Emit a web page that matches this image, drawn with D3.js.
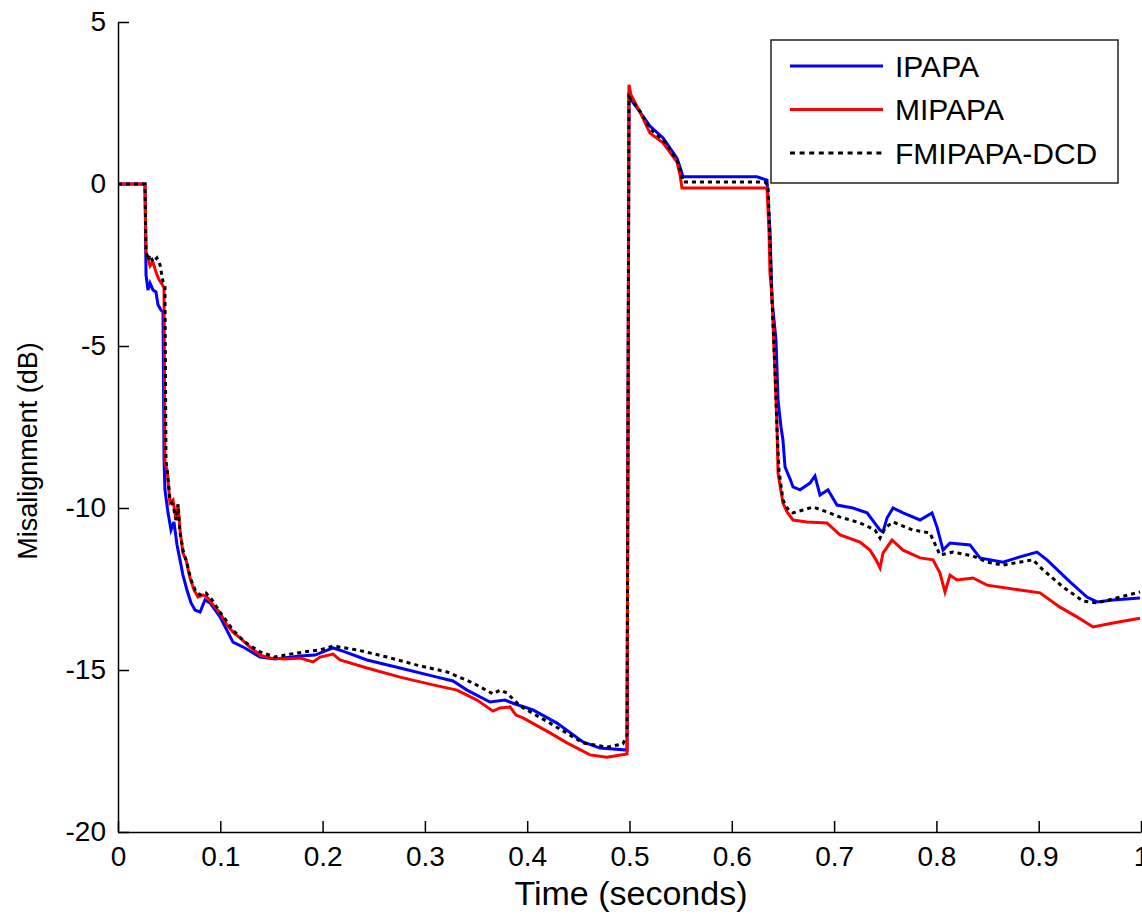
<!DOCTYPE html>
<html>
<head>
<meta charset="utf-8"/>
<title>Misalignment vs time</title>
<script src="https://d3js.org/d3.v7.min.js"></script>
<style>
    body { margin: 0; background: #fff; }
    svg { display: block; font-family: "Liberation Sans", Arial, sans-serif; }
    .axis path, .axis line { stroke: #000; stroke-width: 1.5; }
    .axis text { font-size: 28px; fill: #000; }
</style>
</head>
<body>
<svg id="chart" width="1142" height="916"></svg>
<script>
// time (s), misalignment (dB)
var ipapa = [
    [0, 0], [0.0264, 0], [0.0274, -2.81], [0.0293, -3.27], [0.0313, -3.06], [0.0342, -3.27],
    [0.0371, -3.33], [0.0391, -3.73], [0.042, -3.89], [0.044, -3.95], [0.045, -8.52], [0.0459, -9.44],
    [0.0489, -10.15], [0.0518, -10.68], [0.0547, -10.43], [0.0577, -11.14], [0.0606, -11.6], [0.0635, -12.07],
    [0.0674, -12.53], [0.0714, -12.93], [0.0753, -13.15], [0.0802, -13.21], [0.085, -12.84], [0.0899, -12.93],
    [0.0997, -13.36], [0.1124, -14.14], [0.1241, -14.32], [0.1388, -14.6], [0.1535, -14.66], [0.1779, -14.57],
    [0.1926, -14.54], [0.2102, -14.32], [0.2219, -14.44], [0.2434, -14.69], [0.2757, -14.94], [0.3079, -15.19],
    [0.3275, -15.34], [0.3412, -15.62], [0.3636, -15.99], [0.3783, -15.93], [0.3881, -16.05], [0.4057, -16.23],
    [0.4291, -16.64], [0.4545, -17.22], [0.4712, -17.41], [0.4976, -17.47], [0.4995, 2.69], [0.5103, 2.22],
    [0.52, 1.79], [0.5328, 1.42], [0.5464, 0.8], [0.5503, 0.43], [0.5523, 0.22], [0.6246, 0.22],
    [0.6344, 0.12], [0.6373, -1.42], [0.6393, -3.58], [0.6432, -4.81], [0.6452, -6.67], [0.6481, -7.5],
    [0.65, -7.9], [0.652, -8.73], [0.6569, -9.1], [0.6598, -9.35], [0.6667, -9.44], [0.6764, -9.23],
    [0.6813, -9.01], [0.6862, -9.6], [0.694, -9.44], [0.7028, -9.91], [0.7185, -10.0], [0.7322, -10.15],
    [0.7449, -10.68], [0.7478, -10.74], [0.7517, -10.31], [0.7576, -10.0], [0.7674, -10.15], [0.784, -10.37],
    [0.7957, -10.15], [0.8006, -10.59], [0.8065, -11.3], [0.8133, -11.08], [0.8328, -11.14], [0.8426, -11.54],
    [0.8651, -11.67], [0.8817, -11.51], [0.8983, -11.36], [0.9081, -11.6], [0.9306, -12.28], [0.9472, -12.75],
    [0.957, -12.9], [0.9726, -12.84], [0.999, -12.78]
];

var mipapa = [
    [0, 0], [0.0264, 0], [0.0274, -2.13], [0.0293, -2.28], [0.0313, -2.53], [0.0342, -2.41],
    [0.0371, -2.72], [0.0401, -2.96], [0.043, -3.09], [0.045, -3.21], [0.0459, -8.61], [0.048, -8.83],
    [0.0508, -9.85], [0.0538, -9.75], [0.0567, -10.37], [0.0587, -9.91], [0.0606, -10.68], [0.0635, -11.39],
    [0.0665, -11.6], [0.0704, -12.16], [0.0743, -12.53], [0.0782, -12.75], [0.0831, -12.68], [0.088, -12.78],
    [0.0929, -12.99], [0.0997, -13.24], [0.1065, -13.61], [0.1124, -13.83], [0.1193, -14.01], [0.129, -14.29],
    [0.1388, -14.54], [0.1486, -14.63], [0.1632, -14.66], [0.1779, -14.63], [0.1906, -14.75], [0.1975, -14.6],
    [0.2102, -14.51], [0.217, -14.69], [0.2434, -14.94], [0.2757, -15.22], [0.3079, -15.46], [0.3314, -15.62],
    [0.3509, -15.93], [0.3666, -16.27], [0.3734, -16.17], [0.3832, -16.14], [0.389, -16.39], [0.3959, -16.48],
    [0.4223, -16.94], [0.4389, -17.25], [0.4614, -17.62], [0.478, -17.69], [0.4976, -17.59], [0.4995, 3.06],
    [0.5015, 2.75], [0.5103, 2.22], [0.52, 1.57], [0.5328, 1.27], [0.5464, 0.68], [0.5494, 0.28],
    [0.5513, -0.12], [0.6344, -0.12], [0.6364, -1.51], [0.6373, -2.75], [0.6393, -3.49], [0.6422, -5.83],
    [0.6442, -7.5], [0.6452, -8.92], [0.65, -9.85], [0.654, -10.12], [0.6598, -10.37], [0.6735, -10.43],
    [0.693, -10.46], [0.7058, -10.83], [0.7253, -11.05], [0.7351, -11.3], [0.741, -11.6], [0.7449, -11.85],
    [0.7478, -11.39], [0.7566, -10.99], [0.7674, -11.3], [0.784, -11.54], [0.7967, -11.6], [0.8035, -12.01],
    [0.8084, -12.59], [0.8133, -12.07], [0.8201, -12.22], [0.8358, -12.16], [0.8495, -12.38], [0.8817, -12.53],
    [0.9013, -12.62], [0.9208, -13.06], [0.9374, -13.36], [0.9531, -13.67], [0.9726, -13.55], [0.999, -13.4]
];

var fmipapaDcd = [
    [0, 0], [0.0264, 0], [0.0274, -2.04], [0.0293, -2.35], [0.0313, -2.19], [0.0342, -2.41],
    [0.0381, -2.28], [0.0411, -2.5], [0.044, -3.02], [0.0459, -3.15], [0.0469, -8.52], [0.0489, -9.07],
    [0.0508, -9.75], [0.0538, -9.91], [0.0567, -10.37], [0.0587, -9.88], [0.0606, -10.74], [0.0635, -11.3],
    [0.0674, -11.7], [0.0714, -12.22], [0.0762, -12.59], [0.0802, -12.68], [0.086, -12.62], [0.0919, -12.84],
    [0.0997, -13.21], [0.1124, -13.77], [0.1241, -14.14], [0.1388, -14.44], [0.1535, -14.6], [0.1681, -14.51],
    [0.1828, -14.44], [0.1975, -14.38], [0.2102, -14.26], [0.2336, -14.38], [0.263, -14.6], [0.2923, -14.85],
    [0.3216, -15.06], [0.347, -15.4], [0.3666, -15.74], [0.3734, -15.62], [0.3802, -15.71], [0.393, -16.11],
    [0.4223, -16.64], [0.4545, -17.25], [0.478, -17.38], [0.4936, -17.28], [0.4976, -17.01], [0.4995, 2.69],
    [0.5103, 2.25], [0.52, 1.7], [0.5328, 1.36], [0.5464, 0.74], [0.5503, 0.37], [0.5523, 0.06],
    [0.6325, 0.06], [0.6354, -0.06], [0.6373, -1.73], [0.6393, -3.58], [0.6422, -5.74], [0.6442, -7.59],
    [0.6461, -8.83], [0.65, -9.75], [0.654, -10.0], [0.6598, -10.15], [0.6696, -10.06], [0.6794, -9.97],
    [0.693, -10.12], [0.7058, -10.28], [0.7253, -10.46], [0.74, -10.68], [0.7449, -10.93], [0.7498, -10.62],
    [0.7576, -10.43], [0.7771, -10.68], [0.7937, -10.77], [0.8035, -11.45], [0.8162, -11.36], [0.8358, -11.48],
    [0.8495, -11.67], [0.8651, -11.76], [0.8944, -11.6], [0.9042, -11.91], [0.9238, -12.44], [0.9433, -12.87],
    [0.957, -12.93], [0.9795, -12.75], [0.999, -12.59]
];

var seriesNames = ["IPAPA", "MIPAPA", "FMIPAPA-DCD"];
var seriesColors = ["#0000ff", "#ff0000", "#000000"];
var xTicks = [0, 0.1, 0.2, 0.3, 0.4, 0.5, 0.6, 0.7, 0.8, 0.9, 1];
var yTicks = [5, 0, -5, -10, -15, -20];

var margin = {left: 118, right: 1, top: 22, bottom: 84};
var svg = d3.select("#chart");
var W = +svg.attr("width"), H = +svg.attr("height");

var x = d3.scaleLinear().domain([0, 1]).range([margin.left, W - margin.right]);
var y = d3.scaleLinear().domain([-20, 5]).range([H - margin.bottom, margin.top]);

// axes, ticks pointing inwards like matlab
svg.append("g")
    .attr("class", "axis")
    .attr("transform", "translate(0," + (H - margin.bottom) + ")")
    .call(d3.axisBottom(x).tickValues(xTicks).tickSizeInner(-11).tickSizeOuter(0).tickPadding(14)
        .tickFormat(function (d) { return String(d); }));

svg.append("g")
    .attr("class", "axis")
    .attr("transform", "translate(" + margin.left + ",0)")
    .call(d3.axisLeft(y).tickValues(yTicks).tickSizeInner(-11).tickSizeOuter(0).tickPadding(12)
        .tickFormat(function (d) { return String(d); }));

var line = d3.line()
    .x(function (d) { return x(d[0]); })
    .y(function (d) { return y(d[1]); });

var allSeries = [ipapa, mipapa, fmipapaDcd];

svg.append("g").selectAll("path")
    .data(allSeries)
    .enter()
    .append("path")
    .attr("d", line)
    .attr("fill", "none")
    .attr("stroke", function (d, i) { return seriesColors[i]; })
    .attr("stroke-width", 3)
    .attr("stroke-linejoin", "miter")
    .attr("stroke-dasharray", function (d, i) { return i == 2 ? "4,4" : null; });

// axis labels
svg.append("text")
    .attr("x", 631)
    .attr("y", 905)
    .attr("text-anchor", "middle")
    .attr("font-size", 34)
    .text("Time (seconds)");

svg.append("text")
    .attr("transform", "translate(37," + 451 + ") rotate(-90)")
    .attr("text-anchor", "middle")
    .attr("font-size", 27)
    .text("Misalignment (dB)");

// legend
var legend = svg.append("g").attr("transform", "translate(771,40)");
legend.append("rect")
    .attr("width", 347)
    .attr("height", 143)
    .attr("fill", "#fff")
    .attr("stroke", "#222")
    .attr("stroke-width", 1.5);

var rows = legend.selectAll("g.row")
    .data(seriesNames)
    .enter()
    .append("g")
    .attr("class", "row")
    .attr("transform", function (d, i) { return "translate(0," + (26 + i * 43.5) + ")"; });

rows.append("line")
    .attr("x1", 19).attr("x2", 112)
    .attr("stroke", function (d, i) { return seriesColors[i]; })
    .attr("stroke-width", 3)
    .attr("stroke-dasharray", function (d, i) { return i == 2 ? "5,4.6" : null; });

rows.append("text")
    .attr("x", 124)
    .attr("dy", "0.36em")
    .attr("font-size", 30)
    .text(function (d) { return d; });
</script>
</body>
</html>
